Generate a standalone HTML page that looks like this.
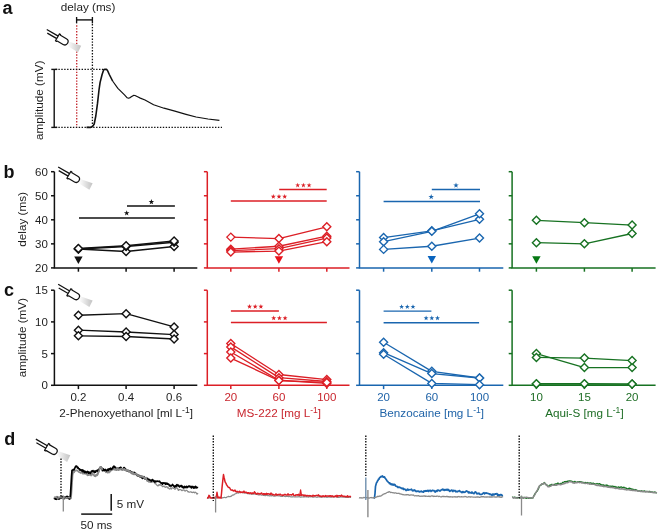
<!DOCTYPE html>
<html><head><meta charset="utf-8"><title>Figure</title>
<style>
html,body{margin:0;padding:0;background:#fff;}
body{width:660px;height:532px;overflow:hidden;}
svg{display:block;font-family:"Liberation Sans",Arial,Helvetica,sans-serif;}
</style></head><body>
<svg width="660" height="532" viewBox="0 0 660 532">
<defs><linearGradient id="cone" x1="0" y1="0" x2="1" y2="0"><stop offset="0" stop-color="#ffffff"/><stop offset="1" stop-color="#c2c2c2"/></linearGradient></defs>
<rect width="660" height="532" fill="#fff"/>
<text x="2.6" y="13.8" font-size="18" font-weight="bold" fill="#111">a</text>
<text x="60.8" y="10.6" fill="#1e1e1e" font-size="11.7" text-anchor="start" >delay (ms)</text>
<line x1="76.6" y1="19.9" x2="92.4" y2="19.9" stroke="#111" stroke-width="1.4" />
<line x1="76.6" y1="17" x2="76.6" y2="23.4" stroke="#111" stroke-width="1.35" />
<line x1="92.4" y1="17" x2="92.4" y2="23.4" stroke="#111" stroke-width="1.35" />
<line x1="76.7" y1="25.3" x2="76.7" y2="127.6" stroke="#c42a30" stroke-width="1.35" stroke-dasharray="1.4 1.5"/>
<line x1="92.4" y1="24" x2="92.4" y2="127.6" stroke="#111" stroke-width="1.3" stroke-dasharray="1.4 1.5"/>
<line x1="55.5" y1="69.4" x2="104.5" y2="69.4" stroke="#111" stroke-width="1.3" stroke-dasharray="1.4 1.5"/>
<line x1="55.5" y1="127.4" x2="222" y2="127.4" stroke="#111" stroke-width="1.3" stroke-dasharray="1.4 1.5"/>
<line x1="54.2" y1="69.4" x2="54.2" y2="127.4" stroke="#111" stroke-width="1.4" />
<line x1="51.3" y1="69.4" x2="57.3" y2="69.4" stroke="#111" stroke-width="1.4" />
<line x1="51.3" y1="127.4" x2="57.3" y2="127.4" stroke="#111" stroke-width="1.4" />
<text transform="translate(42.9,100.3) rotate(-90)" fill="#1e1e1e" font-size="11.7" text-anchor="middle">amplitude (mV)</text>
<path d="M86.5 127.4 L90.5 127.4 L92.5 126.6 L94.2 124 L95.8 116 L97.5 103.4 L99 90 L100.1 82.4 L102.1 74.5 L103.6 70 L104.5 69.4 L106.5 69.4 L107.5 70.5 L109.3 74.5 L112.6 81" fill="none" stroke="#111" stroke-width="1.6" stroke-linejoin="round" />
<path d="M112.6 81 L117.9 88.3 L124.5 94.9 L127.2 97.8 L128.4 98.2 L130.2 97.6 L131.7 96.6 L133.5 95.4 L135 95.5 L137.6 96.8 L140.3 98.1 L145 100 L153.6 104.7 L164 108.2 L174.9 111.2 L186 114.3 L196.1 117 L208 119 L219.4 120.4" fill="none" stroke="#111" stroke-width="1.2" stroke-linejoin="round" />
<g transform="translate(-11.4,-137.5)">
<path d="M80.2 179.0 L92.6 183.2 L89.4 189.8 L78.9 183.4Z" fill="url(#cone)"/>
<g transform="translate(68.6,174.7) rotate(30)">
<path d="M-12.9 -1.45 L0.4 -1.45 M-10.6 1.45 L0.4 1.45" stroke="#111" stroke-width="1.25" fill="none"/>
<path d="M0.3 -4.0 L1.5 -4.0 L1.9 -3.3 L8.7 -3.3 A3.3 3.3 0 0 1 8.7 3.3 L1.9 3.3 L1.5 4.0 L0.3 4.0 Z" fill="#fff" stroke="#111" stroke-width="1.2" stroke-linejoin="round"/>
</g></g>
<path d="M54.4 171.7 L54.4 267.9 L197.3 267.9" fill="none" stroke="#111" stroke-width="1.5"/>
<line x1="51" y1="267.9" x2="54.4" y2="267.9" stroke="#111" stroke-width="1.5" />
<text x="47.9" y="271.9" fill="#1e1e1e" font-size="11.5" text-anchor="end" >20</text>
<line x1="51" y1="243.85" x2="54.4" y2="243.85" stroke="#111" stroke-width="1.5" />
<text x="47.9" y="247.85" fill="#1e1e1e" font-size="11.5" text-anchor="end" >30</text>
<line x1="51" y1="219.8" x2="54.4" y2="219.8" stroke="#111" stroke-width="1.5" />
<text x="47.9" y="223.8" fill="#1e1e1e" font-size="11.5" text-anchor="end" >40</text>
<line x1="51" y1="195.75" x2="54.4" y2="195.75" stroke="#111" stroke-width="1.5" />
<text x="47.9" y="199.75" fill="#1e1e1e" font-size="11.5" text-anchor="end" >50</text>
<line x1="51" y1="171.7" x2="54.4" y2="171.7" stroke="#111" stroke-width="1.5" />
<text x="47.9" y="175.7" fill="#1e1e1e" font-size="11.5" text-anchor="end" >60</text>
<line x1="78.4" y1="267.9" x2="78.4" y2="271.7" stroke="#111" stroke-width="1.5" />
<line x1="126.1" y1="267.9" x2="126.1" y2="271.7" stroke="#111" stroke-width="1.5" />
<line x1="174.1" y1="267.9" x2="174.1" y2="271.7" stroke="#111" stroke-width="1.5" />
<path d="M207.3 171.7 L207.3 267.9 L349.5 267.9" fill="none" stroke="#dc1f26" stroke-width="1.5"/>
<line x1="203.9" y1="267.9" x2="207.3" y2="267.9" stroke="#dc1f26" stroke-width="1.5" />
<line x1="203.9" y1="243.85" x2="207.3" y2="243.85" stroke="#dc1f26" stroke-width="1.5" />
<line x1="203.9" y1="219.8" x2="207.3" y2="219.8" stroke="#dc1f26" stroke-width="1.5" />
<line x1="203.9" y1="195.75" x2="207.3" y2="195.75" stroke="#dc1f26" stroke-width="1.5" />
<line x1="203.9" y1="171.7" x2="207.3" y2="171.7" stroke="#dc1f26" stroke-width="1.5" />
<line x1="230.8" y1="267.9" x2="230.8" y2="271.7" stroke="#dc1f26" stroke-width="1.5" />
<line x1="278.9" y1="267.9" x2="278.9" y2="271.7" stroke="#dc1f26" stroke-width="1.5" />
<line x1="326.8" y1="267.9" x2="326.8" y2="271.7" stroke="#dc1f26" stroke-width="1.5" />
<path d="M359.5 171.7 L359.5 267.9 L503.3 267.9" fill="none" stroke="#1a66af" stroke-width="1.5"/>
<line x1="356.1" y1="267.9" x2="359.5" y2="267.9" stroke="#1a66af" stroke-width="1.5" />
<line x1="356.1" y1="243.85" x2="359.5" y2="243.85" stroke="#1a66af" stroke-width="1.5" />
<line x1="356.1" y1="219.8" x2="359.5" y2="219.8" stroke="#1a66af" stroke-width="1.5" />
<line x1="356.1" y1="195.75" x2="359.5" y2="195.75" stroke="#1a66af" stroke-width="1.5" />
<line x1="356.1" y1="171.7" x2="359.5" y2="171.7" stroke="#1a66af" stroke-width="1.5" />
<line x1="383.6" y1="267.9" x2="383.6" y2="271.7" stroke="#1a66af" stroke-width="1.5" />
<line x1="431.8" y1="267.9" x2="431.8" y2="271.7" stroke="#1a66af" stroke-width="1.5" />
<line x1="479.5" y1="267.9" x2="479.5" y2="271.7" stroke="#1a66af" stroke-width="1.5" />
<path d="M512.1 171.7 L512.1 267.9 L655.6 267.9" fill="none" stroke="#177222" stroke-width="1.5"/>
<line x1="508.7" y1="267.9" x2="512.1" y2="267.9" stroke="#177222" stroke-width="1.5" />
<line x1="508.7" y1="243.85" x2="512.1" y2="243.85" stroke="#177222" stroke-width="1.5" />
<line x1="508.7" y1="219.8" x2="512.1" y2="219.8" stroke="#177222" stroke-width="1.5" />
<line x1="508.7" y1="195.75" x2="512.1" y2="195.75" stroke="#177222" stroke-width="1.5" />
<line x1="508.7" y1="171.7" x2="512.1" y2="171.7" stroke="#177222" stroke-width="1.5" />
<line x1="536.4" y1="267.9" x2="536.4" y2="271.7" stroke="#177222" stroke-width="1.5" />
<line x1="584.4" y1="267.9" x2="584.4" y2="271.7" stroke="#177222" stroke-width="1.5" />
<line x1="632.1" y1="267.9" x2="632.1" y2="271.7" stroke="#177222" stroke-width="1.5" />
<path d="M54.4 290.2 L54.4 385.3 L197.3 385.3" fill="none" stroke="#111" stroke-width="1.5"/>
<line x1="51" y1="385.3" x2="54.4" y2="385.3" stroke="#111" stroke-width="1.5" />
<text x="47.9" y="389.3" fill="#1e1e1e" font-size="11.5" text-anchor="end" >0</text>
<line x1="51" y1="353.6" x2="54.4" y2="353.6" stroke="#111" stroke-width="1.5" />
<text x="47.9" y="357.6" fill="#1e1e1e" font-size="11.5" text-anchor="end" >5</text>
<line x1="51" y1="321.9" x2="54.4" y2="321.9" stroke="#111" stroke-width="1.5" />
<text x="47.9" y="325.9" fill="#1e1e1e" font-size="11.5" text-anchor="end" >10</text>
<line x1="51" y1="290.2" x2="54.4" y2="290.2" stroke="#111" stroke-width="1.5" />
<text x="47.9" y="294.2" fill="#1e1e1e" font-size="11.5" text-anchor="end" >15</text>
<line x1="78.4" y1="385.3" x2="78.4" y2="389.1" stroke="#111" stroke-width="1.5" />
<line x1="126.1" y1="385.3" x2="126.1" y2="389.1" stroke="#111" stroke-width="1.5" />
<line x1="174.1" y1="385.3" x2="174.1" y2="389.1" stroke="#111" stroke-width="1.5" />
<text x="78.4" y="400.5" fill="#1e1e1e" font-size="11.5" text-anchor="middle" >0.2</text>
<text x="126.1" y="400.5" fill="#1e1e1e" font-size="11.5" text-anchor="middle" >0.4</text>
<text x="174.1" y="400.5" fill="#1e1e1e" font-size="11.5" text-anchor="middle" >0.6</text>
<text x="126.1" y="417.3" fill="#1e1e1e" font-size="11.7" text-anchor="middle" >2-Phenoxyethanol [ml L<tspan dy="-4.6" font-size="8.6">-1</tspan><tspan dy="4.6">]</tspan></text>
<path d="M207.3 290.2 L207.3 385.3 L349.5 385.3" fill="none" stroke="#dc1f26" stroke-width="1.5"/>
<line x1="203.9" y1="385.3" x2="207.3" y2="385.3" stroke="#dc1f26" stroke-width="1.5" />
<line x1="203.9" y1="353.6" x2="207.3" y2="353.6" stroke="#dc1f26" stroke-width="1.5" />
<line x1="203.9" y1="321.9" x2="207.3" y2="321.9" stroke="#dc1f26" stroke-width="1.5" />
<line x1="203.9" y1="290.2" x2="207.3" y2="290.2" stroke="#dc1f26" stroke-width="1.5" />
<line x1="230.8" y1="385.3" x2="230.8" y2="389.1" stroke="#dc1f26" stroke-width="1.5" />
<line x1="278.9" y1="385.3" x2="278.9" y2="389.1" stroke="#dc1f26" stroke-width="1.5" />
<line x1="326.8" y1="385.3" x2="326.8" y2="389.1" stroke="#dc1f26" stroke-width="1.5" />
<text x="230.8" y="400.5" fill="#c8262e" font-size="11.5" text-anchor="middle" >20</text>
<text x="278.9" y="400.5" fill="#c8262e" font-size="11.5" text-anchor="middle" >60</text>
<text x="326.8" y="400.5" fill="#c8262e" font-size="11.5" text-anchor="middle" >100</text>
<text x="278.9" y="417.3" fill="#c8262e" font-size="11.7" text-anchor="middle" >MS-222 [mg L<tspan dy="-4.6" font-size="8.6">-1</tspan><tspan dy="4.6">]</tspan></text>
<path d="M359.5 290.2 L359.5 385.3 L503.3 385.3" fill="none" stroke="#1a66af" stroke-width="1.5"/>
<line x1="356.1" y1="385.3" x2="359.5" y2="385.3" stroke="#1a66af" stroke-width="1.5" />
<line x1="356.1" y1="353.6" x2="359.5" y2="353.6" stroke="#1a66af" stroke-width="1.5" />
<line x1="356.1" y1="321.9" x2="359.5" y2="321.9" stroke="#1a66af" stroke-width="1.5" />
<line x1="356.1" y1="290.2" x2="359.5" y2="290.2" stroke="#1a66af" stroke-width="1.5" />
<line x1="383.6" y1="385.3" x2="383.6" y2="389.1" stroke="#1a66af" stroke-width="1.5" />
<line x1="431.8" y1="385.3" x2="431.8" y2="389.1" stroke="#1a66af" stroke-width="1.5" />
<line x1="479.5" y1="385.3" x2="479.5" y2="389.1" stroke="#1a66af" stroke-width="1.5" />
<text x="383.6" y="400.5" fill="#2164a8" font-size="11.5" text-anchor="middle" >20</text>
<text x="431.8" y="400.5" fill="#2164a8" font-size="11.5" text-anchor="middle" >60</text>
<text x="479.5" y="400.5" fill="#2164a8" font-size="11.5" text-anchor="middle" >100</text>
<text x="431.8" y="417.3" fill="#2164a8" font-size="11.7" text-anchor="middle" >Benzocaine [mg L<tspan dy="-4.6" font-size="8.6">-1</tspan><tspan dy="4.6">]</tspan></text>
<path d="M512.1 290.2 L512.1 385.3 L655.6 385.3" fill="none" stroke="#177222" stroke-width="1.5"/>
<line x1="508.7" y1="385.3" x2="512.1" y2="385.3" stroke="#177222" stroke-width="1.5" />
<line x1="508.7" y1="353.6" x2="512.1" y2="353.6" stroke="#177222" stroke-width="1.5" />
<line x1="508.7" y1="321.9" x2="512.1" y2="321.9" stroke="#177222" stroke-width="1.5" />
<line x1="508.7" y1="290.2" x2="512.1" y2="290.2" stroke="#177222" stroke-width="1.5" />
<line x1="536.4" y1="385.3" x2="536.4" y2="389.1" stroke="#177222" stroke-width="1.5" />
<line x1="584.4" y1="385.3" x2="584.4" y2="389.1" stroke="#177222" stroke-width="1.5" />
<line x1="632.1" y1="385.3" x2="632.1" y2="389.1" stroke="#177222" stroke-width="1.5" />
<text x="536.4" y="400.5" fill="#1f6e26" font-size="11.5" text-anchor="middle" >10</text>
<text x="584.4" y="400.5" fill="#1f6e26" font-size="11.5" text-anchor="middle" >15</text>
<text x="632.1" y="400.5" fill="#1f6e26" font-size="11.5" text-anchor="middle" >20</text>
<text x="584.4" y="417.3" fill="#1f6e26" font-size="11.7" text-anchor="middle" >Aqui-S [mg L<tspan dy="-4.6" font-size="8.6">-1</tspan><tspan dy="4.6">]</tspan></text>
<text x="3.6" y="178.2" font-size="18" font-weight="bold" fill="#111">b</text>
<text x="4.1" y="295.8" font-size="18" font-weight="bold" fill="#111">c</text>
<text transform="translate(26.1,219.4) rotate(-90)" fill="#1e1e1e" font-size="11.7" text-anchor="middle">delay (ms)</text>
<text transform="translate(26.1,337.6) rotate(-90)" fill="#1e1e1e" font-size="11.7" text-anchor="middle">amplitude (mV)</text>
<path d="M78.4 248.9 L126.1 251.55 L174.1 246.5" fill="none" stroke="#111" stroke-width="1.5" stroke-linejoin="round" />
<path d="M78.4 248.9 L126.1 246.5 L174.1 242.17" fill="none" stroke="#111" stroke-width="1.5" stroke-linejoin="round" />
<path d="M78.4 248.42 L126.1 245.77 L174.1 240.96" fill="none" stroke="#111" stroke-width="1.5" stroke-linejoin="round" />
<path d="M74.4 248.9 L78.4 244.9 L82.4 248.9 L78.4 252.9Z" fill="#fff" stroke="#111" stroke-width="1.4" stroke-linejoin="miter"/>
<path d="M122.1 251.55 L126.1 247.55 L130.1 251.55 L126.1 255.55Z" fill="#fff" stroke="#111" stroke-width="1.4" stroke-linejoin="miter"/>
<path d="M170.1 246.5 L174.1 242.5 L178.1 246.5 L174.1 250.5Z" fill="#fff" stroke="#111" stroke-width="1.4" stroke-linejoin="miter"/>
<path d="M74.4 248.9 L78.4 244.9 L82.4 248.9 L78.4 252.9Z" fill="#fff" stroke="#111" stroke-width="1.4" stroke-linejoin="miter"/>
<path d="M122.1 246.5 L126.1 242.5 L130.1 246.5 L126.1 250.5Z" fill="#fff" stroke="#111" stroke-width="1.4" stroke-linejoin="miter"/>
<path d="M170.1 242.17 L174.1 238.17 L178.1 242.17 L174.1 246.17Z" fill="#fff" stroke="#111" stroke-width="1.4" stroke-linejoin="miter"/>
<path d="M74.4 248.42 L78.4 244.42 L82.4 248.42 L78.4 252.42Z" fill="#fff" stroke="#111" stroke-width="1.4" stroke-linejoin="miter"/>
<path d="M122.1 245.77 L126.1 241.77 L130.1 245.77 L126.1 249.77Z" fill="#fff" stroke="#111" stroke-width="1.4" stroke-linejoin="miter"/>
<path d="M170.1 240.96 L174.1 236.96 L178.1 240.96 L174.1 244.96Z" fill="#fff" stroke="#111" stroke-width="1.4" stroke-linejoin="miter"/>
<path d="M230.8 237.12 L278.9 238.56 L326.8 226.77" fill="none" stroke="#dc1f26" stroke-width="1.3" stroke-linejoin="round" />
<path d="M230.8 249.14 L278.9 246.25 L326.8 236.15" fill="none" stroke="#dc1f26" stroke-width="1.3" stroke-linejoin="round" />
<path d="M230.8 250.58 L278.9 248.66 L326.8 238.08" fill="none" stroke="#dc1f26" stroke-width="1.3" stroke-linejoin="round" />
<path d="M230.8 252.03 L278.9 251.06 L326.8 241.69" fill="none" stroke="#dc1f26" stroke-width="1.3" stroke-linejoin="round" />
<path d="M226.8 237.12 L230.8 233.12 L234.8 237.12 L230.8 241.12Z" fill="#fff" stroke="#dc1f26" stroke-width="1.4" stroke-linejoin="miter"/>
<path d="M274.9 238.56 L278.9 234.56 L282.9 238.56 L278.9 242.56Z" fill="#fff" stroke="#dc1f26" stroke-width="1.4" stroke-linejoin="miter"/>
<path d="M322.8 226.77 L326.8 222.77 L330.8 226.77 L326.8 230.77Z" fill="#fff" stroke="#dc1f26" stroke-width="1.4" stroke-linejoin="miter"/>
<path d="M226.8 249.14 L230.8 245.14 L234.8 249.14 L230.8 253.14Z" fill="#fff" stroke="#dc1f26" stroke-width="1.4" stroke-linejoin="miter"/>
<path d="M274.9 246.25 L278.9 242.25 L282.9 246.25 L278.9 250.25Z" fill="#fff" stroke="#dc1f26" stroke-width="1.4" stroke-linejoin="miter"/>
<path d="M322.8 236.15 L326.8 232.15 L330.8 236.15 L326.8 240.15Z" fill="#fff" stroke="#dc1f26" stroke-width="1.4" stroke-linejoin="miter"/>
<path d="M226.8 250.58 L230.8 246.58 L234.8 250.58 L230.8 254.58Z" fill="#fff" stroke="#dc1f26" stroke-width="1.4" stroke-linejoin="miter"/>
<path d="M274.9 248.66 L278.9 244.66 L282.9 248.66 L278.9 252.66Z" fill="#fff" stroke="#dc1f26" stroke-width="1.4" stroke-linejoin="miter"/>
<path d="M322.8 238.08 L326.8 234.08 L330.8 238.08 L326.8 242.08Z" fill="#fff" stroke="#dc1f26" stroke-width="1.4" stroke-linejoin="miter"/>
<path d="M226.8 252.03 L230.8 248.03 L234.8 252.03 L230.8 256.03Z" fill="#fff" stroke="#dc1f26" stroke-width="1.4" stroke-linejoin="miter"/>
<path d="M274.9 251.06 L278.9 247.06 L282.9 251.06 L278.9 255.06Z" fill="#fff" stroke="#dc1f26" stroke-width="1.4" stroke-linejoin="miter"/>
<path d="M322.8 241.69 L326.8 237.69 L330.8 241.69 L326.8 245.69Z" fill="#fff" stroke="#dc1f26" stroke-width="1.4" stroke-linejoin="miter"/>
<path d="M383.6 237.6 L431.8 230.86 L479.5 219.32" fill="none" stroke="#1a66af" stroke-width="1.3" stroke-linejoin="round" />
<path d="M383.6 241.69 L431.8 231.34 L479.5 213.79" fill="none" stroke="#1a66af" stroke-width="1.3" stroke-linejoin="round" />
<path d="M383.6 249.38 L431.8 246.25 L479.5 238.08" fill="none" stroke="#1a66af" stroke-width="1.3" stroke-linejoin="round" />
<path d="M379.6 237.6 L383.6 233.6 L387.6 237.6 L383.6 241.6Z" fill="#fff" stroke="#1a66af" stroke-width="1.4" stroke-linejoin="miter"/>
<path d="M427.8 230.86 L431.8 226.86 L435.8 230.86 L431.8 234.86Z" fill="#fff" stroke="#1a66af" stroke-width="1.4" stroke-linejoin="miter"/>
<path d="M475.5 219.32 L479.5 215.32 L483.5 219.32 L479.5 223.32Z" fill="#fff" stroke="#1a66af" stroke-width="1.4" stroke-linejoin="miter"/>
<path d="M379.6 241.69 L383.6 237.69 L387.6 241.69 L383.6 245.69Z" fill="#fff" stroke="#1a66af" stroke-width="1.4" stroke-linejoin="miter"/>
<path d="M427.8 231.34 L431.8 227.34 L435.8 231.34 L431.8 235.34Z" fill="#fff" stroke="#1a66af" stroke-width="1.4" stroke-linejoin="miter"/>
<path d="M475.5 213.79 L479.5 209.79 L483.5 213.79 L479.5 217.79Z" fill="#fff" stroke="#1a66af" stroke-width="1.4" stroke-linejoin="miter"/>
<path d="M379.6 249.38 L383.6 245.38 L387.6 249.38 L383.6 253.38Z" fill="#fff" stroke="#1a66af" stroke-width="1.4" stroke-linejoin="miter"/>
<path d="M427.8 246.25 L431.8 242.25 L435.8 246.25 L431.8 250.25Z" fill="#fff" stroke="#1a66af" stroke-width="1.4" stroke-linejoin="miter"/>
<path d="M475.5 238.08 L479.5 234.08 L483.5 238.08 L479.5 242.08Z" fill="#fff" stroke="#1a66af" stroke-width="1.4" stroke-linejoin="miter"/>
<path d="M536.4 220.28 L584.4 222.69 L632.1 225.09" fill="none" stroke="#177222" stroke-width="1.3" stroke-linejoin="round" />
<path d="M536.4 242.65 L584.4 243.85 L632.1 233.51" fill="none" stroke="#177222" stroke-width="1.3" stroke-linejoin="round" />
<path d="M532.4 220.28 L536.4 216.28 L540.4 220.28 L536.4 224.28Z" fill="#fff" stroke="#177222" stroke-width="1.4" stroke-linejoin="miter"/>
<path d="M580.4 222.69 L584.4 218.69 L588.4 222.69 L584.4 226.69Z" fill="#fff" stroke="#177222" stroke-width="1.4" stroke-linejoin="miter"/>
<path d="M628.1 225.09 L632.1 221.09 L636.1 225.09 L632.1 229.09Z" fill="#fff" stroke="#177222" stroke-width="1.4" stroke-linejoin="miter"/>
<path d="M532.4 242.65 L536.4 238.65 L540.4 242.65 L536.4 246.65Z" fill="#fff" stroke="#177222" stroke-width="1.4" stroke-linejoin="miter"/>
<path d="M580.4 243.85 L584.4 239.85 L588.4 243.85 L584.4 247.85Z" fill="#fff" stroke="#177222" stroke-width="1.4" stroke-linejoin="miter"/>
<path d="M628.1 233.51 L632.1 229.51 L636.1 233.51 L632.1 237.51Z" fill="#fff" stroke="#177222" stroke-width="1.4" stroke-linejoin="miter"/>
<path d="M78.4 315.24 L126.1 313.66 L174.1 326.97" fill="none" stroke="#111" stroke-width="1.35" stroke-linejoin="round" />
<path d="M78.4 330.14 L126.1 332.04 L174.1 334.58" fill="none" stroke="#111" stroke-width="1.35" stroke-linejoin="round" />
<path d="M78.4 335.85 L126.1 336.48 L174.1 339.02" fill="none" stroke="#111" stroke-width="1.35" stroke-linejoin="round" />
<path d="M74.4 315.24 L78.4 311.24 L82.4 315.24 L78.4 319.24Z" fill="#fff" stroke="#111" stroke-width="1.4" stroke-linejoin="miter"/>
<path d="M122.1 313.66 L126.1 309.66 L130.1 313.66 L126.1 317.66Z" fill="#fff" stroke="#111" stroke-width="1.4" stroke-linejoin="miter"/>
<path d="M170.1 326.97 L174.1 322.97 L178.1 326.97 L174.1 330.97Z" fill="#fff" stroke="#111" stroke-width="1.4" stroke-linejoin="miter"/>
<path d="M74.4 330.14 L78.4 326.14 L82.4 330.14 L78.4 334.14Z" fill="#fff" stroke="#111" stroke-width="1.4" stroke-linejoin="miter"/>
<path d="M122.1 332.04 L126.1 328.04 L130.1 332.04 L126.1 336.04Z" fill="#fff" stroke="#111" stroke-width="1.4" stroke-linejoin="miter"/>
<path d="M170.1 334.58 L174.1 330.58 L178.1 334.58 L174.1 338.58Z" fill="#fff" stroke="#111" stroke-width="1.4" stroke-linejoin="miter"/>
<path d="M74.4 335.85 L78.4 331.85 L82.4 335.85 L78.4 339.85Z" fill="#fff" stroke="#111" stroke-width="1.4" stroke-linejoin="miter"/>
<path d="M122.1 336.48 L126.1 332.48 L130.1 336.48 L126.1 340.48Z" fill="#fff" stroke="#111" stroke-width="1.4" stroke-linejoin="miter"/>
<path d="M170.1 339.02 L174.1 335.02 L178.1 339.02 L174.1 343.02Z" fill="#fff" stroke="#111" stroke-width="1.4" stroke-linejoin="miter"/>
<path d="M230.8 343.46 L278.9 374.52 L326.8 379.59" fill="none" stroke="#dc1f26" stroke-width="1.35" stroke-linejoin="round" />
<path d="M230.8 346.94 L278.9 377.69 L326.8 381.5" fill="none" stroke="#dc1f26" stroke-width="1.35" stroke-linejoin="round" />
<path d="M230.8 352.01 L278.9 380.23 L326.8 383.4" fill="none" stroke="#dc1f26" stroke-width="1.35" stroke-linejoin="round" />
<path d="M230.8 358.04 L278.9 380.55 L326.8 382.45" fill="none" stroke="#dc1f26" stroke-width="1.35" stroke-linejoin="round" />
<path d="M226.8 343.46 L230.8 339.46 L234.8 343.46 L230.8 347.46Z" fill="#fff" stroke="#dc1f26" stroke-width="1.4" stroke-linejoin="miter"/>
<path d="M274.9 374.52 L278.9 370.52 L282.9 374.52 L278.9 378.52Z" fill="#fff" stroke="#dc1f26" stroke-width="1.4" stroke-linejoin="miter"/>
<path d="M322.8 379.59 L326.8 375.59 L330.8 379.59 L326.8 383.59Z" fill="#fff" stroke="#dc1f26" stroke-width="1.4" stroke-linejoin="miter"/>
<path d="M226.8 346.94 L230.8 342.94 L234.8 346.94 L230.8 350.94Z" fill="#fff" stroke="#dc1f26" stroke-width="1.4" stroke-linejoin="miter"/>
<path d="M274.9 377.69 L278.9 373.69 L282.9 377.69 L278.9 381.69Z" fill="#fff" stroke="#dc1f26" stroke-width="1.4" stroke-linejoin="miter"/>
<path d="M322.8 381.5 L326.8 377.5 L330.8 381.5 L326.8 385.5Z" fill="#fff" stroke="#dc1f26" stroke-width="1.4" stroke-linejoin="miter"/>
<path d="M226.8 352.01 L230.8 348.01 L234.8 352.01 L230.8 356.01Z" fill="#fff" stroke="#dc1f26" stroke-width="1.4" stroke-linejoin="miter"/>
<path d="M274.9 380.23 L278.9 376.23 L282.9 380.23 L278.9 384.23Z" fill="#fff" stroke="#dc1f26" stroke-width="1.4" stroke-linejoin="miter"/>
<path d="M322.8 383.4 L326.8 379.4 L330.8 383.4 L326.8 387.4Z" fill="#fff" stroke="#dc1f26" stroke-width="1.4" stroke-linejoin="miter"/>
<path d="M226.8 358.04 L230.8 354.04 L234.8 358.04 L230.8 362.04Z" fill="#fff" stroke="#dc1f26" stroke-width="1.4" stroke-linejoin="miter"/>
<path d="M274.9 380.55 L278.9 376.55 L282.9 380.55 L278.9 384.55Z" fill="#fff" stroke="#dc1f26" stroke-width="1.4" stroke-linejoin="miter"/>
<path d="M322.8 382.45 L326.8 378.45 L330.8 382.45 L326.8 386.45Z" fill="#fff" stroke="#dc1f26" stroke-width="1.4" stroke-linejoin="miter"/>
<path d="M383.6 342.19 L431.8 371.35 L479.5 378.01" fill="none" stroke="#1a66af" stroke-width="1.3" stroke-linejoin="round" />
<path d="M383.6 352.65 L431.8 373.57 L479.5 378.01" fill="none" stroke="#1a66af" stroke-width="1.3" stroke-linejoin="round" />
<path d="M383.6 354.23 L431.8 383.4 L479.5 384.67" fill="none" stroke="#1a66af" stroke-width="1.3" stroke-linejoin="round" />
<path d="M379.6 342.19 L383.6 338.19 L387.6 342.19 L383.6 346.19Z" fill="#fff" stroke="#1a66af" stroke-width="1.4" stroke-linejoin="miter"/>
<path d="M427.8 371.35 L431.8 367.35 L435.8 371.35 L431.8 375.35Z" fill="#fff" stroke="#1a66af" stroke-width="1.4" stroke-linejoin="miter"/>
<path d="M475.5 378.01 L479.5 374.01 L483.5 378.01 L479.5 382.01Z" fill="#fff" stroke="#1a66af" stroke-width="1.4" stroke-linejoin="miter"/>
<path d="M379.6 352.65 L383.6 348.65 L387.6 352.65 L383.6 356.65Z" fill="#fff" stroke="#1a66af" stroke-width="1.4" stroke-linejoin="miter"/>
<path d="M427.8 373.57 L431.8 369.57 L435.8 373.57 L431.8 377.57Z" fill="#fff" stroke="#1a66af" stroke-width="1.4" stroke-linejoin="miter"/>
<path d="M475.5 378.01 L479.5 374.01 L483.5 378.01 L479.5 382.01Z" fill="#fff" stroke="#1a66af" stroke-width="1.4" stroke-linejoin="miter"/>
<path d="M379.6 354.23 L383.6 350.23 L387.6 354.23 L383.6 358.23Z" fill="#fff" stroke="#1a66af" stroke-width="1.4" stroke-linejoin="miter"/>
<path d="M427.8 383.4 L431.8 379.4 L435.8 383.4 L431.8 387.4Z" fill="#fff" stroke="#1a66af" stroke-width="1.4" stroke-linejoin="miter"/>
<path d="M475.5 384.67 L479.5 380.67 L483.5 384.67 L479.5 388.67Z" fill="#fff" stroke="#1a66af" stroke-width="1.4" stroke-linejoin="miter"/>
<path d="M536.4 353.6 L584.4 367.55 L632.1 367.55" fill="none" stroke="#177222" stroke-width="1.3" stroke-linejoin="round" />
<path d="M536.4 357.4 L584.4 358.04 L632.1 360.57" fill="none" stroke="#177222" stroke-width="1.3" stroke-linejoin="round" />
<path d="M536.4 384.03 L584.4 384.03 L632.1 384.03" fill="none" stroke="#177222" stroke-width="1.3" stroke-linejoin="round" />
<path d="M536.4 383.72 L584.4 383.72 L632.1 384.03" fill="none" stroke="#177222" stroke-width="1.3" stroke-linejoin="round" />
<path d="M532.4 353.6 L536.4 349.6 L540.4 353.6 L536.4 357.6Z" fill="#fff" stroke="#177222" stroke-width="1.4" stroke-linejoin="miter"/>
<path d="M580.4 367.55 L584.4 363.55 L588.4 367.55 L584.4 371.55Z" fill="#fff" stroke="#177222" stroke-width="1.4" stroke-linejoin="miter"/>
<path d="M628.1 367.55 L632.1 363.55 L636.1 367.55 L632.1 371.55Z" fill="#fff" stroke="#177222" stroke-width="1.4" stroke-linejoin="miter"/>
<path d="M532.4 357.4 L536.4 353.4 L540.4 357.4 L536.4 361.4Z" fill="#fff" stroke="#177222" stroke-width="1.4" stroke-linejoin="miter"/>
<path d="M580.4 358.04 L584.4 354.04 L588.4 358.04 L584.4 362.04Z" fill="#fff" stroke="#177222" stroke-width="1.4" stroke-linejoin="miter"/>
<path d="M628.1 360.57 L632.1 356.57 L636.1 360.57 L632.1 364.57Z" fill="#fff" stroke="#177222" stroke-width="1.4" stroke-linejoin="miter"/>
<path d="M532.4 384.03 L536.4 380.03 L540.4 384.03 L536.4 388.03Z" fill="#fff" stroke="#177222" stroke-width="1.4" stroke-linejoin="miter"/>
<path d="M580.4 384.03 L584.4 380.03 L588.4 384.03 L584.4 388.03Z" fill="#fff" stroke="#177222" stroke-width="1.4" stroke-linejoin="miter"/>
<path d="M628.1 384.03 L632.1 380.03 L636.1 384.03 L632.1 388.03Z" fill="#fff" stroke="#177222" stroke-width="1.4" stroke-linejoin="miter"/>
<path d="M532.4 383.72 L536.4 379.72 L540.4 383.72 L536.4 387.72Z" fill="#fff" stroke="#177222" stroke-width="1.4" stroke-linejoin="miter"/>
<path d="M580.4 383.72 L584.4 379.72 L588.4 383.72 L584.4 387.72Z" fill="#fff" stroke="#177222" stroke-width="1.4" stroke-linejoin="miter"/>
<path d="M628.1 384.03 L632.1 380.03 L636.1 384.03 L632.1 388.03Z" fill="#fff" stroke="#177222" stroke-width="1.4" stroke-linejoin="miter"/>
<line x1="127" y1="206" x2="174.9" y2="206" stroke="#111" stroke-width="1.45" />
<path d="M151.4 199.1 L152.08 201.06 L154.16 201.1 L152.5 202.36 L153.1 204.35 L151.4 203.16 L149.7 204.35 L150.3 202.36 L148.64 201.1 L150.72 201.06Z" fill="#111"/>
<line x1="79" y1="217.9" x2="174.9" y2="217.9" stroke="#111" stroke-width="1.45" />
<path d="M126.7 210.3 L127.38 212.26 L129.46 212.3 L127.8 213.56 L128.4 215.55 L126.7 214.36 L125 215.55 L125.6 213.56 L123.94 212.3 L126.02 212.26Z" fill="#111"/>
<line x1="279.2" y1="189.5" x2="326.7" y2="189.5" stroke="#dc1f26" stroke-width="1.45" />
<path d="M297.7 182.7 L298.31 184.46 L300.17 184.5 L298.69 185.62 L299.23 187.4 L297.7 186.34 L296.17 187.4 L296.71 185.62 L295.23 184.5 L297.09 184.46Z" fill="#dc1f26"/>
<path d="M303.4 182.7 L304.01 184.46 L305.87 184.5 L304.39 185.62 L304.93 187.4 L303.4 186.34 L301.87 187.4 L302.41 185.62 L300.93 184.5 L302.79 184.46Z" fill="#dc1f26"/>
<path d="M309.1 182.7 L309.71 184.46 L311.57 184.5 L310.09 185.62 L310.63 187.4 L309.1 186.34 L307.57 187.4 L308.11 185.62 L306.63 184.5 L308.49 184.46Z" fill="#dc1f26"/>
<line x1="230.8" y1="201" x2="326.7" y2="201" stroke="#dc1f26" stroke-width="1.45" />
<path d="M273.3 194 L273.91 195.76 L275.77 195.8 L274.29 196.92 L274.83 198.7 L273.3 197.64 L271.77 198.7 L272.31 196.92 L270.83 195.8 L272.69 195.76Z" fill="#dc1f26"/>
<path d="M279 194 L279.61 195.76 L281.47 195.8 L279.99 196.92 L280.53 198.7 L279 197.64 L277.47 198.7 L278.01 196.92 L276.53 195.8 L278.39 195.76Z" fill="#dc1f26"/>
<path d="M284.7 194 L285.31 195.76 L287.17 195.8 L285.69 196.92 L286.23 198.7 L284.7 197.64 L283.17 198.7 L283.71 196.92 L282.23 195.8 L284.09 195.76Z" fill="#dc1f26"/>
<line x1="431.8" y1="189.5" x2="480" y2="189.5" stroke="#1a66af" stroke-width="1.45" />
<path d="M456 182.5 L456.68 184.46 L458.76 184.5 L457.1 185.76 L457.7 187.75 L456 186.56 L454.3 187.75 L454.9 185.76 L453.24 184.5 L455.32 184.46Z" fill="#1a66af"/>
<line x1="383.6" y1="201.4" x2="480" y2="201.4" stroke="#1a66af" stroke-width="1.45" />
<path d="M431.2 194 L431.88 195.96 L433.96 196 L432.3 197.26 L432.9 199.25 L431.2 198.06 L429.5 199.25 L430.1 197.26 L428.44 196 L430.52 195.96Z" fill="#1a66af"/>
<line x1="230.9" y1="310.9" x2="278.9" y2="310.9" stroke="#dc1f26" stroke-width="1.45" />
<path d="M249.5 304 L250.11 305.76 L251.97 305.8 L250.49 306.92 L251.03 308.7 L249.5 307.64 L247.97 308.7 L248.51 306.92 L247.03 305.8 L248.89 305.76Z" fill="#dc1f26"/>
<path d="M255.2 304 L255.81 305.76 L257.67 305.8 L256.19 306.92 L256.73 308.7 L255.2 307.64 L253.67 308.7 L254.21 306.92 L252.73 305.8 L254.59 305.76Z" fill="#dc1f26"/>
<path d="M260.9 304 L261.51 305.76 L263.37 305.8 L261.89 306.92 L262.43 308.7 L260.9 307.64 L259.37 308.7 L259.91 306.92 L258.43 305.8 L260.29 305.76Z" fill="#dc1f26"/>
<line x1="230.9" y1="322.4" x2="326.9" y2="322.4" stroke="#dc1f26" stroke-width="1.45" />
<path d="M273.7 315.6 L274.31 317.36 L276.17 317.4 L274.69 318.52 L275.23 320.3 L273.7 319.24 L272.17 320.3 L272.71 318.52 L271.23 317.4 L273.09 317.36Z" fill="#dc1f26"/>
<path d="M279.4 315.6 L280.01 317.36 L281.87 317.4 L280.39 318.52 L280.93 320.3 L279.4 319.24 L277.87 320.3 L278.41 318.52 L276.93 317.4 L278.79 317.36Z" fill="#dc1f26"/>
<path d="M285.1 315.6 L285.71 317.36 L287.57 317.4 L286.09 318.52 L286.63 320.3 L285.1 319.24 L283.57 320.3 L284.11 318.52 L282.63 317.4 L284.49 317.36Z" fill="#dc1f26"/>
<line x1="383.6" y1="311.1" x2="431.4" y2="311.1" stroke="#1a66af" stroke-width="1.45" />
<path d="M401.6 304.2 L402.21 305.96 L404.07 306 L402.59 307.12 L403.13 308.9 L401.6 307.84 L400.07 308.9 L400.61 307.12 L399.13 306 L400.99 305.96Z" fill="#1a66af"/>
<path d="M407.3 304.2 L407.91 305.96 L409.77 306 L408.29 307.12 L408.83 308.9 L407.3 307.84 L405.77 308.9 L406.31 307.12 L404.83 306 L406.69 305.96Z" fill="#1a66af"/>
<path d="M413 304.2 L413.61 305.96 L415.47 306 L413.99 307.12 L414.53 308.9 L413 307.84 L411.47 308.9 L412.01 307.12 L410.53 306 L412.39 305.96Z" fill="#1a66af"/>
<line x1="383.6" y1="322.7" x2="479.1" y2="322.7" stroke="#1a66af" stroke-width="1.45" />
<path d="M426.1 315.6 L426.71 317.36 L428.57 317.4 L427.09 318.52 L427.63 320.3 L426.1 319.24 L424.57 320.3 L425.11 318.52 L423.63 317.4 L425.49 317.36Z" fill="#1a66af"/>
<path d="M431.8 315.6 L432.41 317.36 L434.27 317.4 L432.79 318.52 L433.33 320.3 L431.8 319.24 L430.27 320.3 L430.81 318.52 L429.33 317.4 L431.19 317.36Z" fill="#1a66af"/>
<path d="M437.5 315.6 L438.11 317.36 L439.97 317.4 L438.49 318.52 L439.03 320.3 L437.5 319.24 L435.97 320.3 L436.51 318.52 L435.03 317.4 L436.89 317.36Z" fill="#1a66af"/>
<path d="M74.2 256.5 L82.6 256.5 L78.4 264.1Z" fill="#111"/>
<path d="M274.7 256.2 L283.1 256.2 L278.9 263.8Z" fill="#e8101a"/>
<path d="M427.6 256 L436 256 L431.8 263.6Z" fill="#0a64be"/>
<path d="M532.2 256.2 L540.6 256.2 L536.4 263.8Z" fill="#067814"/>
<g transform="translate(0,0)">
<path d="M80.2 179.0 L92.6 183.2 L89.4 189.8 L78.9 183.4Z" fill="url(#cone)"/>
<g transform="translate(68.6,174.7) rotate(30)">
<path d="M-12.9 -1.45 L0.4 -1.45 M-10.6 1.45 L0.4 1.45" stroke="#111" stroke-width="1.25" fill="none"/>
<path d="M0.3 -4.0 L1.5 -4.0 L1.9 -3.3 L8.7 -3.3 A3.3 3.3 0 0 1 8.7 3.3 L1.9 3.3 L1.5 4.0 L0.3 4.0 Z" fill="#fff" stroke="#111" stroke-width="1.2" stroke-linejoin="round"/>
</g></g>
<g transform="translate(0,117.3)">
<path d="M80.2 179.0 L92.6 183.2 L89.4 189.8 L78.9 183.4Z" fill="url(#cone)"/>
<g transform="translate(68.6,174.7) rotate(30)">
<path d="M-12.9 -1.45 L0.4 -1.45 M-10.6 1.45 L0.4 1.45" stroke="#111" stroke-width="1.25" fill="none"/>
<path d="M0.3 -4.0 L1.5 -4.0 L1.9 -3.3 L8.7 -3.3 A3.3 3.3 0 0 1 8.7 3.3 L1.9 3.3 L1.5 4.0 L0.3 4.0 Z" fill="#fff" stroke="#111" stroke-width="1.2" stroke-linejoin="round"/>
</g></g>
<text x="4.2" y="445.4" font-size="18" font-weight="bold" fill="#111">d</text>
<g transform="translate(-22.3,272.1)">
<path d="M80.2 179.0 L92.6 183.2 L89.4 189.8 L78.9 183.4Z" fill="url(#cone)"/>
<g transform="translate(68.6,174.7) rotate(30)">
<path d="M-12.9 -1.45 L0.4 -1.45 M-10.6 1.45 L0.4 1.45" stroke="#111" stroke-width="1.25" fill="none"/>
<path d="M0.3 -4.0 L1.5 -4.0 L1.9 -3.3 L8.7 -3.3 A3.3 3.3 0 0 1 8.7 3.3 L1.9 3.3 L1.5 4.0 L0.3 4.0 Z" fill="#fff" stroke="#111" stroke-width="1.2" stroke-linejoin="round"/>
</g></g>
<path d="M54 497.33 L54.5 497.64 L55 497.49 L55.5 497.83 L56 498.04 L56.5 497.14 L57 496.59 L57.5 497.8 L58 497.37 L58.5 497.11 L59 498.35 L59.5 498.02 L60 498.52 L60.5 498.12 L61 498.21 L61.5 497.38 L62 497.83 L62.5 498.48 L63 498.18 L63.5 498.42 L64 498.42 L64.5 497.33 L65 498.03 L65.5 498.08 L66 497.58 L66.5 496.85 L67 497.98 L67.5 497.84 L68 498.21 L68.5 498.69 L69 498.63 L69.5 498.97 L70 498.2 L70.5 498.54 L71 498.07 L71.5 490.72 L72 483.39 L72.5 475.22 L73 472.68 L73.5 471.81 L74 472.36 L74.5 471.31 L75 470.77 L75.5 470.35 L76 470.54 L76.5 470.46 L77 470.38 L77.5 470.81 L78 471.05 L78.5 471.78 L79 471.78 L79.5 472.26 L80 472.41 L80.5 472.89 L81 472.65 L81.5 471.72 L82 472.61 L82.5 473.34 L83 473.7 L83.5 473.37 L84 473.57 L84.5 472.87 L85 473.73 L85.5 473.82 L86 473.46 L86.5 473 L87 474.3 L87.5 475.31 L88 474.3 L88.5 475.19 L89 475.05 L89.5 474.33 L90 474.2 L90.5 474.96 L91 475.49 L91.5 474.24 L92 474.61 L92.5 473.73 L93 474.48 L93.5 474.3 L94 475.25 L94.5 475.96 L95 475.52 L95.5 476.24 L96 475.42 L96.5 474.64 L97 475.25 L97.5 474.59 L98 473.08 L98.5 472 L99 471.12 L99.5 469.15 L100 467.25 L100.5 467.08 L101 467.13 L101.5 468.53 L102 469.34 L102.5 469.02 L103 469.22 L103.5 469.65 L104 470.3 L104.5 470.63 L105 470.89 L105.5 471.29 L106 472.22 L106.5 472.06 L107 472 L107.5 472.65 L108 472.26 L108.5 471.72 L109 472.52 L109.5 471.95 L110 471.56 L110.5 470.25 L111 470.17 L111.5 470.28 L112 469.18 L112.5 469.55 L113 469.61 L113.5 468.74 L114 469.32 L114.5 469.31 L115 469.68 L115.5 469.26 L116 469.68 L116.5 469.94 L117 468.77 L117.5 468.24 L118 469.08 L118.5 470.04 L119 469.25 L119.5 469.23 L120 469.47 L120.5 469.11 L121 469.02 L121.5 468.89 L122 468.93 L122.5 469.37 L123 469.07 L123.5 469.06 L124 469.78 L124.5 468.98 L125 469.64 L125.5 470.37 L126 470.06 L126.5 469.84 L127 470.88 L127.5 470.47 L128 470.26 L128.5 470.74 L129 471.56 L129.5 471.02 L130 471.25 L130.5 471.5 L131 472.64 L131.5 472.61 L132 473.46 L132.5 472.73 L133 472.77 L133.5 473.46 L134 474.32 L134.5 474.07 L135 473.64 L135.5 473.34 L136 474.02 L136.5 473.85 L137 474.98 L137.5 475.7 L138 474.98 L138.5 474.89 L139 475.9 L139.5 476.2 L140 476.75 L140.5 476.3 L141 475.78 L141.5 475.92 L142 476.99 L142.5 476.68 L143 476.76 L143.5 477.03 L144 477.27 L144.5 477.56 L145 478.77 L145.5 478.15 L146 477.71 L146.5 479.32 L147 480.16 L147.5 480.92 L148 480.44 L148.5 481.28 L149 481.81 L149.5 480.9 L150 481.5 L150.5 482.09 L151 482.2 L151.5 482.11 L152 481.78" fill="none" stroke="#8a8a8a" stroke-width="1.8" stroke-linejoin="round" />
<path d="M151 482.2 L151.5 482.11 L152 481.78 L152.5 481.83 L153 481.77 L153.5 481.57 L154 482.53 L154.5 482.59 L155 483.69 L155.5 482.98 L156 484.29 L156.5 484.67 L157 485.31 L157.5 485.66 L158 485.91 L158.5 485.53 L159 484.4 L159.5 485.23 L160 484.68 L160.5 484.72 L161 485.46 L161.5 485.66 L162 485.63 L162.5 486.64 L163 486.63 L163.5 486.21 L164 485.91 L164.5 486.94 L165 486.83 L165.5 487.4 L166 486.99 L166.5 486.58 L167 487.05 L167.5 487.87 L168 487.19 L168.5 488.05 L169 488.74 L169.5 488.92 L170 489.1 L170.5 487.77 L171 488.28 L171.5 489 L172 487.95 L172.5 487.88 L173 487.89 L173.5 488.41 L174 488.54 L174.5 488.74 L175 489.44 L175.5 488.45 L176 488.1 L176.5 488.11 L177 488.16 L177.5 488.13 L178 489.8 L178.5 490.47 L179 489.48 L179.5 489.78 L180 489.65 L180.5 489.63 L181 489.73 L181.5 490.35 L182 490.6 L182.5 490.36 L183 489.98 L183.5 490.08 L184 489.81 L184.5 490.49 L185 491.17 L185.5 490.94 L186 490.34 L186.5 490.25 L187 490.61 L187.5 491.24 L188 491.93 L188.5 491.59 L189 492.22 L189.5 492.26 L190 491.98 L190.5 491.78 L191 491.94 L191.5 492.44 L192 492.23 L192.5 492.66 L193 492.5 L193.5 492.07 L194 492.43 L194.5 492.94 L195 492.11 L195.5 492.38 L196 492.56 L196.5 493.51 L197 494.13 L197.5 493.47 L198 494.06" fill="none" stroke="#8a8a8a" stroke-width="1.2" stroke-linejoin="round" />
<path d="M54 498.07 L54.5 498.47 L55 498.78 L55.5 499.26 L56 499.06 L56.5 499.36 L57 497.54 L57.5 497.6 L58 498.67 L58.5 498.56 L59 499.06 L59.5 497.58 L60 497.62 L60.5 497.15 L61 497.57 L61.5 497.85 L62 496.75 L62.5 496.65 L63 496.74 L63.5 498.19 L64 498.58 L64.5 497.44 L65 498.27 L65.5 497.24 L66 497.78 L66.5 496.97 L67 496.29 L67.5 497.86 L68 497.19 L68.5 496.87 L69 498.4 L69.5 498.92 L70 497.9 L70.5 494.06 L71 485.62 L71.5 476.95 L72 470.33 L72.5 470.54 L73 469.63 L73.5 469.99 L74 469.89 L74.5 468.4 L75 467.67 L75.5 466.75 L76 466.12 L76.5 466.09 L77 466.76 L77.5 467.92 L78 467.35 L78.5 468.72 L79 468.82 L79.5 468.85 L80 470.1 L80.5 470.08 L81 469.82 L81.5 470.15 L82 470.92 L82.5 469.99 L83 471.64 L83.5 470.49 L84 471.63 L84.5 472.51 L85 471.25 L85.5 472.42 L86 472.18 L86.5 472.64 L87 471.73 L87.5 471.47 L88 471.74 L88.5 473.2 L89 472.12 L89.5 472.67 L90 473.19 L90.5 473.34 L91 471.97 L91.5 471.16 L92 471 L92.5 471.67 L93 470.57 L93.5 471.45 L94 472.04 L94.5 472.5 L95 470.95 L95.5 472.2 L96 470.98 L96.5 470.48 L97 470.61 L97.5 471.15 L98 469.94 L98.5 470.42 L99 469.61 L99.5 468.49 L100 467.74 L100.5 467.56 L101 467.4 L101.5 467.63 L102 469.08 L102.5 470.63 L103 469.72 L103.5 468.89 L104 470.54 L104.5 470.39 L105 470.04 L105.5 469.5 L106 470.03 L106.5 470.81 L107 470.4 L107.5 470.13 L108 469.2 L108.5 470.32 L109 468.8 L109.5 468.9 L110 469.57 L110.5 468.2 L111 468.69 L111.5 469.27 L112 468.71 L112.5 468.64 L113 466.95 L113.5 466.69 L114 466.18 L114.5 467.52 L115 467.03 L115.5 467.19 L116 468.53 L116.5 468.93 L117 469.46 L117.5 468.63 L118 468.34 L118.5 468.72 L119 468.38 L119.5 467.81 L120 467.8 L120.5 467.25 L121 467.5 L121.5 468.99 L122 469.69 L122.5 469.33 L123 468.9 L123.5 468.34 L124 467.54 L124.5 467.71 L125 469 L125.5 469.94 L126 469.38 L126.5 470.13 L127 470.58 L127.5 470.72 L128 470.81 L128.5 471.27 L129 470.76 L129.5 471.41 L130 470.94 L130.5 471.3 L131 472.25 L131.5 472.7 L132 472.19 L132.5 473.43 L133 473.51 L133.5 473.5 L134 472.35 L134.5 473.05 L135 472.86 L135.5 473.79 L136 473.9 L136.5 474.84 L137 475.04 L137.5 475.57 L138 474.96 L138.5 475.4 L139 475.92 L139.5 476.48 L140 475.81 L140.5 476.66 L141 477.24 L141.5 477.24 L142 477.97 L142.5 478.39 L143 477.73 L143.5 477.53 L144 476.73 L144.5 477.91 L145 478.82 L145.5 478.36 L146 478.7 L146.5 479.03 L147 479.32 L147.5 478.34 L148 479.29 L148.5 479.42 L149 479.77 L149.5 479.52 L150 479.95 L150.5 480.6 L151 480.72 L151.5 481.07 L152 479.83 L152.5 479.61 L153 480.22 L153.5 481.09 L154 480.68 L154.5 481.6 L155 482.05 L155.5 481.08 L156 481.65 L156.5 481.48 L157 481.02 L157.5 481.01 L158 481.46 L158.5 481.44 L159 481.5 L159.5 481.24 L160 482.1 L160.5 482.39 L161 483.1 L161.5 483.45 L162 482.9 L162.5 484.14 L163 482.83 L163.5 483.11 L164 483.02 L164.5 483.32 L165 482.86 L165.5 484.26 L166 484.01 L166.5 483.18 L167 484.09 L167.5 483.46 L168 484.18 L168.5 484.13 L169 484.66 L169.5 485.79 L170 486.08 L170.5 485.38 L171 485.92 L171.5 485.86 L172 485.26 L172.5 484.49 L173 485.14 L173.5 485.42 L174 486.46 L174.5 487.04 L175 486.57 L175.5 485.8 L176 486.65 L176.5 485.14 L177 484.65 L177.5 485.45 L178 485.99 L178.5 485.25 L179 485.99 L179.5 486.96 L180 486.35 L180.5 486.2 L181 485.68 L181.5 485.58 L182 487.05 L182.5 486.49 L183 487.51 L183.5 487.94 L184 487.47 L184.5 486.51 L185 487.64 L185.5 487.15 L186 486.75 L186.5 486.35 L187 487.63 L187.5 487.21 L188 486.56 L188.5 486.68 L189 485.97 L189.5 486.74 L190 486.74 L190.5 486.43 L191 487.37 L191.5 487.96 L192 486.48 L192.5 486.9 L193 486.56 L193.5 487.86 L194 488.19 L194.5 487.19 L195 486.76 L195.5 486.31 L196 487.94 L196.5 487.25 L197 487.61 L197.5 487.51 L198 487.83" fill="none" stroke="#000" stroke-width="1.7" stroke-linejoin="round" />
<path d="M96 475.42 L96.5 474.64 L97 475.25 L97.5 474.59 L98 473.08 L98.5 472 L99 471.12 L99.5 469.15 L100 467.25 L100.5 467.08 L101 467.13 L101.5 468.53 L102 469.34 L102.5 469.02 L103 469.22" fill="none" stroke="#8a8a8a" stroke-width="1.6" stroke-linejoin="round" />
<path d="M114 469.32 L114.5 469.31 L115 469.68 L115.5 469.26 L116 469.68 L116.5 469.94 L117 468.77 L117.5 468.24 L118 469.08 L118.5 470.04 L119 469.25 L119.5 469.23 L120 469.47 L120.5 469.11 L121 469.02 L121.5 468.89 L122 468.93 L122.5 469.37 L123 469.07 L123.5 469.06 L124 469.78 L124.5 468.98 L125 469.64 L125.5 470.37 L126 470.06 L126.5 469.84 L127 470.88 L127.5 470.47 L128 470.26 L128.5 470.74 L129 471.56 L129.5 471.02 L130 471.25 L130.5 471.5 L131 472.64 L131.5 472.61 L132 473.46 L132.5 472.73 L133 472.77 L133.5 473.46 L134 474.32 L134.5 474.07 L135 473.64 L135.5 473.34 L136 474.02 L136.5 473.85 L137 474.98 L137.5 475.7 L138 474.98 L138.5 474.89 L139 475.9 L139.5 476.2 L140 476.75 L140.5 476.3 L141 475.78 L141.5 475.92 L142 476.99 L142.5 476.68 L143 476.76 L143.5 477.03 L144 477.27 L144.5 477.56 L145 478.77 L145.5 478.15 L146 477.71 L146.5 479.32 L147 480.16 L147.5 480.92 L148 480.44" fill="none" stroke="#8a8a8a" stroke-width="1.7" stroke-linejoin="round" />
<path d="M54 497.54 L54.5 497.27 L55 497.43 L55.5 497.27 L56 497.1 L56.5 497.35 L57 497.99 L57.5 498.2 L58 498.26 L58.5 497.75 L59 497.81 L59.5 497.58 L60 497.36 L60.5 497.19 L61 497.21 L61.5 497.93 L62 498.19 L62.5 498.3 L63 498.35 L63.5 497.77 L64 497.59 L64.5 497.82 L65 498.04 L65.5 498.28 L66 498.42 L66.5 497.7 L67 497.85 L67.5 498 L68 497.91 L68.5 497.53 L69 497.64 L69.5 497.31 L70 497.99 L70.5 498.26" fill="none" stroke="#8a8a8a" stroke-width="1.4" stroke-linejoin="round" />
<line x1="63.3" y1="495.5" x2="63.3" y2="511.5" stroke="#8a8a8a" stroke-width="1.3" />
<line x1="61" y1="458.5" x2="61" y2="498.5" stroke="#111" stroke-width="1.4" stroke-dasharray="1.4 1.4"/>
<path d="M207 497.77 L207.5 497.82 L208 498.07 L208.5 497.91 L209 497.86 L209.5 497.88 L210 497.65 L210.5 497.73 L211 497.84 L211.5 498 L212 497.66 L212.5 497.61 L213 497.46 L213.5 497.82 L214 497.92 L214.5 497.59 L215 497.98 L215.5 498.17 L216 498.08 L216.5 498.01 L217 497.7 L217.5 497.46 L218 497.65 L218.5 497.46 L219 497.44 L219.5 497.47 L220 497.35 L220.5 497.55 L221 497.64 L221.5 497.93 L222 497.87 L222.5 497.84 L223 497.7 L223.5 497.68 L224 497.51 L224.5 497.28 L225 497.55 L225.5 497.65 L226 497.56 L226.5 497.4 L227 497.04 L227.5 496.77 L228 496.63 L228.5 496.39 L229 496.64 L229.5 496.51 L230 496.67 L230.5 496.27 L231 496.28 L231.5 496.1 L232 495.38 L232.5 495.01 L233 495.13 L233.5 494.8 L234 494.81 L234.5 494.34 L235 493.79 L235.5 493.72 L236 493.65 L236.5 493.19 L237 492.72 L237.5 492.72 L238 493.08 L238.5 493.11 L239 492.73 L239.5 492.59 L240 492.42 L240.5 492.28 L241 492.64 L241.5 492.43 L242 492.53 L242.5 492.61 L243 492.53 L243.5 492.85 L244 492.69 L244.5 492.96 L245 492.81 L245.5 492.96 L246 492.94 L246.5 493.01 L247 493.5 L247.5 493.68 L248 493.51 L248.5 493.81 L249 493.59 L249.5 493.63 L250 493.97 L250.5 494.02 L251 493.74 L251.5 494.17 L252 493.94 L252.5 493.87 L253 494.18 L253.5 494.08 L254 494.05 L254.5 493.92 L255 493.89 L255.5 494.19 L256 494.17 L256.5 494.39 L257 494.4 L257.5 494.47 L258 494.84 L258.5 494.76 L259 494.8 L259.5 495.02 L260 494.74 L260.5 494.61 L261 495.03 L261.5 495.2 L262 494.98 L262.5 494.85 L263 495.14 L263.5 495.44 L264 495.16 L264.5 495.5 L265 495.65 L265.5 495.59 L266 495.47 L266.5 495.25 L267 495.12 L267.5 495.64 L268 495.49 L268.5 495.72 L269 495.59 L269.5 495.89 L270 495.93 L270.5 495.76 L271 495.61 L271.5 495.87 L272 495.62 L272.5 495.6 L273 495.79 L273.5 496.07 L274 496.08 L274.5 495.89 L275 496.19 L275.5 495.92 L276 495.68 L276.5 495.72 L277 495.85 L277.5 495.69 L278 495.69 L278.5 495.82 L279 496.01 L279.5 495.85 L280 495.92 L280.5 496.28 L281 496.52 L281.5 496.45 L282 496.45 L282.5 496.39 L283 496.11 L283.5 495.91 L284 495.81 L284.5 496.3 L285 496.43 L285.5 496.66 L286 496.22 L286.5 496.37 L287 496.37 L287.5 496.52 L288 496.36 L288.5 496.7 L289 496.32 L289.5 496.42 L290 496.59 L290.5 496.79 L291 496.79 L291.5 496.79 L292 496.84 L292.5 496.95 L293 496.68 L293.5 496.75 L294 496.92 L294.5 497 L295 496.78 L295.5 496.9 L296 497.01 L296.5 496.9 L297 496.88 L297.5 496.74 L298 496.79 L298.5 496.85 L299 496.56 L299.5 496.76 L300 497.09 L300.5 497.18 L301 497.13 L301.5 496.91 L302 497 L302.5 496.96 L303 496.86 L303.5 497.05 L304 496.69 L304.5 496.92 L305 496.6 L305.5 496.78 L306 496.81 L306.5 496.67 L307 496.88 L307.5 496.87 L308 496.94 L308.5 497.16 L309 496.87 L309.5 496.58 L310 496.61 L310.5 496.86 L311 496.69 L311.5 496.6 L312 496.99 L312.5 497.04 L313 496.94 L313.5 497.16 L314 496.93 L314.5 497.02 L315 496.79 L315.5 496.82 L316 497.06 L316.5 497.24 L317 497.32 L317.5 497.06 L318 497.05 L318.5 496.89 L319 496.7 L319.5 496.83 L320 497.1 L320.5 497.24 L321 497.23 L321.5 497.37 L322 497.04 L322.5 496.81 L323 496.87 L323.5 496.79 L324 496.72 L324.5 496.81 L325 496.98 L325.5 496.99 L326 496.89 L326.5 497.15 L327 497.37 L327.5 497.17 L328 496.84 L328.5 496.65 L329 497.07 L329.5 496.78 L330 497.03 L330.5 497.08 L331 496.95 L331.5 497.17 L332 496.83 L332.5 496.72 L333 496.87 L333.5 496.68 L334 497.07 L334.5 496.92 L335 496.78 L335.5 496.66 L336 496.95 L336.5 496.99 L337 497.12 L337.5 497.2 L338 497.34 L338.5 497.5 L339 497.41 L339.5 497.08 L340 497.09 L340.5 496.91 L341 496.72 L341.5 496.91 L342 497.15 L342.5 496.95 L343 496.91 L343.5 496.93 L344 497.16 L344.5 497.17 L345 497.23 L345.5 497.35 L346 497.19 L346.5 497.36 L347 497.51 L347.5 497.09 L348 497.4 L348.5 497.42 L349 497.08 L349.5 497.11 L350 497.23 L350.5 497.46 L351 497.26" fill="none" stroke="#8a8a8a" stroke-width="1.2" stroke-linejoin="round" />
<path d="M207 497.77 L207.5 497.94 L208 498.04 L208.5 496.87 L209 495.35 L209.5 495.76 L210 496.9 L210.5 497.89 L211 498.04 L211.5 498.02 L212 497.97 L212.5 498.05 L213 497.57 L213.5 497.62 L214 497.37 L214.5 497.99 L215 497.46 L215.5 497.95 L216 497.45 L216.5 495.79 L217 492.24 L217.5 495.6 L218 498.06 L218.5 497.45 L219 497.18 L219.5 497.91 L220 497.86 L220.5 497.42 L221 498.1 L221.5 493.47 L222 487.85 L222.5 483.06 L223 478.67 L223.5 474.6 L224 477.16 L224.5 479.09 L225 481.71 L225.5 482.63 L226 483.31 L226.5 484.69 L227 485.36 L227.5 486.11 L228 486.9 L228.5 487.28 L229 487.59 L229.5 487.6 L230 488.51 L230.5 489.41 L231 490.06 L231.5 490.14 L232 490.02 L232.5 490.1 L233 490.6 L233.5 490.97 L234 490.74 L234.5 490.71 L235 490.06 L235.5 491.17 L236 491.67 L236.5 491.66 L237 491.24 L237.5 491.87 L238 491.85 L238.5 491.99 L239 491.81 L239.5 491.34 L240 492.08 L240.5 492.5 L241 492.06 L241.5 492.31 L242 492.08 L242.5 492.5 L243 492.07 L243.5 492.12 L244 491.12 L244.5 492.59 L245 492.21 L245.5 492.44 L246 492.33 L246.5 492.37 L247 492.6 L247.5 493.22 L248 493.07 L248.5 492.68 L249 492.93 L249.5 493.42 L250 493.13 L250.5 492.83 L251 493.25 L251.5 493.65 L252 492.96 L252.5 492.9 L253 493.39 L253.5 493.21 L254 493.04 L254.5 491.8 L255 492.62 L255.5 493.16 L256 493.81 L256.5 494.16 L257 493.85 L257.5 493.23 L258 493.23 L258.5 493.71 L259 494.01 L259.5 493.98 L260 493.57 L260.5 493.67 L261 493.69 L261.5 492.97 L262 493.59 L262.5 494.16 L263 494.4 L263.5 493.8 L264 493.65 L264.5 494.16 L265 493.84 L265.5 494.36 L266 494.2 L266.5 493.33 L267 494.4 L267.5 493.96 L268 493.83 L268.5 493.74 L269 494.14 L269.5 494.36 L270 493.93 L270.5 494.47 L271 493.06 L271.5 494.02 L272 494.09 L272.5 494.68 L273 494.56 L273.5 494.58 L274 494.89 L274.5 495.1 L275 495.01 L275.5 494.63 L276 493.81 L276.5 494.94 L277 495 L277.5 494.83 L278 494.52 L278.5 494.39 L279 494.71 L279.5 494.7 L280 494.16 L280.5 494.59 L281 495.01 L281.5 495.12 L282 494.98 L282.5 495.39 L283 495.08 L283.5 495.19 L284 494.84 L284.5 494.39 L285 494.43 L285.5 494.42 L286 495.05 L286.5 495.12 L287 495.02 L287.5 495.06 L288 493.8 L288.5 494.78 L289 495.05 L289.5 494.89 L290 494.66 L290.5 494.72 L291 494.68 L291.5 495.03 L292 494.67 L292.5 494.45 L293 493.7 L293.5 495.02 L294 495.32 L294.5 495.38 L295 495.69 L295.5 495.29 L296 494.76 L296.5 494.96 L297 495.03 L297.5 494.81 L298 495.19 L298.5 494.33 L299 494.91 L299.5 494.93 L300 495.57 L300.5 494.96 L301 495.02 L301.5 494.97 L302 494.88 L302.5 495.08 L303 494.97 L303.5 495.62 L304 495.06 L304.5 495.71 L305 495.26 L305.5 495.35 L306 495.55 L306.5 495.89 L307 495.48 L307.5 495.49 L308 495.9 L308.5 495.88 L309 495.59 L309.5 495.66 L310 495.92 L310.5 495.7 L311 495.87 L311.5 495.96 L312 496.32 L312.5 496.09 L313 495.22 L313.5 495.8 L314 496.04 L314.5 495.75 L315 495.8 L315.5 495.69 L316 495.59 L316.5 495.38 L317 495.37 L317.5 495.69 L318 495.57 L318.5 494.79 L319 495.95 L319.5 495.76 L320 496.33 L320.5 496.27 L321 496.04 L321.5 496.41 L322 496.62 L322.5 496.16 L323 495.73 L323.5 496.04 L324 496.4 L324.5 496.35 L325 496.5 L325.5 495.59 L326 496.28 L326.5 495.96 L327 495.95 L327.5 495.92 L328 495.91 L328.5 495.93 L329 496.35 L329.5 495.92 L330 495.75 L330.5 495.72 L331 496.42 L331.5 496.33 L332 495.82 L332.5 495.9 L333 496.66 L333.5 496.76 L334 496.36 L334.5 496.53 L335 496.2 L335.5 495.87 L336 496.43 L336.5 496.69 L337 495.35 L337.5 496.62 L338 495.99 L338.5 495.95 L339 495.65 L339.5 495.66 L340 495.66 L340.5 496.21 L341 496.08 L341.5 495.15 L342 495.82 L342.5 495.91 L343 496.51 L343.5 496.55 L344 496.08 L344.5 496.42 L345 496.45 L345.5 496.39 L346 496.43 L346.5 496.59 L347 496.82 L347.5 495.75 L348 496.68 L348.5 496.54 L349 496.64 L349.5 496.45 L350 496.39 L350.5 496.46 L351 496.7" fill="none" stroke="#dc1f26" stroke-width="1.5" stroke-linejoin="round" />
<path d="M299.6 496 L300.6 489.8 L301.6 495.8" fill="none" stroke="#dc1f26" stroke-width="1.2" stroke-linejoin="round" />
<line x1="215.6" y1="496" x2="215.6" y2="512.5" stroke="#8a8a8a" stroke-width="1.3" />
<line x1="213.3" y1="435.5" x2="213.3" y2="501" stroke="#111" stroke-width="1.4" stroke-dasharray="1.4 1.4"/>
<path d="M374 498.53 L374.5 497.59 L375 493.56 L375.5 486.36 L376 484.43 L376.5 482.73 L377 482.19 L377.5 480.85 L378 480.46 L378.5 479.09 L379 479.21 L379.5 477.89 L380 477.33 L380.5 477.22 L381 476.41 L381.5 476.46 L382 476.64 L382.5 475.85 L383 476.96 L383.5 477.19 L384 477.02 L384.5 476.9 L385 478.05 L385.5 478.36 L386 479.24 L386.5 479.96 L387 480.97 L387.5 481.19 L388 481.86 L388.5 482.41 L389 482.47 L389.5 483.51 L390 483.13 L390.5 483.81 L391 484.55 L391.5 484.55 L392 483.87 L392.5 484.74 L393 485.05 L393.5 484.55 L394 484.21 L394.5 484.94 L395 484.62 L395.5 486.02 L396 486.17 L396.5 486.36 L397 486.36 L397.5 486.85 L398 487.6 L398.5 487.1 L399 487.04 L399.5 487.45 L400 487.28 L400.5 487.77 L401 488.03 L401.5 488.07 L402 488.57 L402.5 488.68 L403 488.13 L403.5 489.4 L404 489.1 L404.5 489.16 L405 489.15 L405.5 490.02 L406 490.52 L406.5 490.11 L407 489.76 L407.5 489.14 L408 490.14 L408.5 489.52 L409 489.85 L409.5 489.73 L410 489.68 L410.5 489.74 L411 489.54 L411.5 489.23 L412 489.91 L412.5 490.66 L413 490.82 L413.5 490.21 L414 490.71 L414.5 489.95 L415 490.16 L415.5 490.96 L416 491.52 L416.5 491.08 L417 491.5 L417.5 491.17 L418 491.07 L418.5 491.13 L419 491.83 L419.5 491.8 L420 491.38 L420.5 491.59 L421 491.58 L421.5 491.13 L422 491.61 L422.5 491.93 L423 491.75 L423.5 492.18 L424 490.92 L424.5 491.06 L425 491.35 L425.5 491.02 L426 490.58 L426.5 491.2 L427 491.09 L427.5 490.78 L428 490.26 L428.5 491.48 L429 491.1 L429.5 490.54 L430 490.42 L430.5 490.42 L431 491.39 L431.5 490.79 L432 490.64 L432.5 490.27 L433 490.69 L433.5 490.48 L434 490.59 L434.5 491.27 L435 491.92 L435.5 492.03 L436 490.78 L436.5 490.67 L437 491.33 L437.5 490.33 L438 490.07 L438.5 490.37 L439 490.31 L439.5 490.84 L440 491.02 L440.5 490.68 L441 490.13 L441.5 489.79 L442 489.65 L442.5 489.22 L443 489.94 L443.5 489.45 L444 490.35 L444.5 490.38 L445 489.53 L445.5 489.83 L446 490.18 L446.5 489.48 L447 489.86 L447.5 489.34 L448 490.29 L448.5 489.57 L449 490.23 L449.5 491.15 L450 491.42 L450.5 490.59 L451 490.68 L451.5 490.12 L452 490.19 L452.5 491.08 L453 491.48 L453.5 490.41 L454 490.49 L454.5 490.97 L455 490.49 L455.5 491.27 L456 491.83 L456.5 491.58 L457 491.18 L457.5 491.78 L458 491.56 L458.5 490.96 L459 490.82 L459.5 490.58 L460 491.57 L460.5 491.56 L461 491.88 L461.5 492.25 L462 492.71 L462.5 491.71 L463 491.57 L463.5 492.27 L464 492.47 L464.5 491.99 L465 492.2 L465.5 491.59 L466 491.25 L466.5 490.93 L467 491.31 L467.5 491.3 L468 491.76 L468.5 492.74 L469 491.94 L469.5 492.21 L470 492.86 L470.5 492.79 L471 492.66 L471.5 493.01 L472 492.01 L472.5 493.03 L473 493.14 L473.5 493.41 L474 493.6 L474.5 492.56 L475 492.01 L475.5 491.94 L476 492.45 L476.5 493.43 L477 493.89 L477.5 493.36 L478 493.45 L478.5 493.71 L479 493.21 L479.5 494.01 L480 494.39 L480.5 494.26 L481 494.5 L481.5 494.48 L482 494.26 L482.5 493.64 L483 493.3 L483.5 493.08 L484 492.71 L484.5 493.93 L485 493.57 L485.5 492.97 L486 493.17 L486.5 492.95 L487 493.41 L487.5 493.49 L488 493.3 L488.5 493.71 L489 493.85 L489.5 493.84 L490 494.6 L490.5 494.18 L491 494.36 L491.5 495.01 L492 495.49 L492.5 494.81 L493 493.95 L493.5 495 L494 494.85 L494.5 494.31 L495 493.92 L495.5 493.92 L496 494.06 L496.5 493.87 L497 493.65 L497.5 495.07 L498 495.53 L498.5 494.64 L499 494.8 L499.5 495.42 L500 495.27 L500.5 494.52 L501 494.6 L501.5 494.72 L502 495.65 L502.5 495.61 L503 495.41" fill="none" stroke="#1a66af" stroke-width="1.7" stroke-linejoin="round" />
<path d="M359 497.6 L359.5 497.81 L360 497.89 L360.5 497.83 L361 497.65 L361.5 497.9 L362 498.03 L362.5 497.92 L363 497.87 L363.5 497.67 L364 497.44 L364.5 497.54 L365 497.72 L365.5 497.5 L366 497.83 L366.5 497.65 L367 497.57 L367.5 497.41 L368 497.9 L368.5 497.99 L369 498.12 L369.5 498.03 L370 497.64 L370.5 497.62 L371 497.71 L371.5 497.52 L372 497.93 L372.5 497.79 L373 497.59 L373.5 497.88 L374 497.62 L374.5 497.82 L375 497.55 L375.5 497.41 L376 497.13 L376.5 497.01 L377 496.69 L377.5 496.37 L378 496.63 L378.5 496.31 L379 496.4 L379.5 496.02 L380 496.22 L380.5 496.1 L381 495.83 L381.5 495.57 L382 495.21 L382.5 494.99 L383 494.39 L383.5 494.18 L384 494.16 L384.5 493.65 L385 493.7 L385.5 493.61 L386 493.16 L386.5 492.79 L387 492.54 L387.5 492.27 L388 492.38 L388.5 491.96 L389 491.73 L389.5 491.7 L390 492.1 L390.5 492.51 L391 492.45 L391.5 492.47 L392 492.55 L392.5 492.76 L393 492.58 L393.5 492.77 L394 492.88 L394.5 493.01 L395 492.86 L395.5 492.81 L396 492.93 L396.5 493.38 L397 493.3 L397.5 493.45 L398 493.39 L398.5 493.28 L399 493.24 L399.5 493.71 L400 493.96 L400.5 493.88 L401 494.07 L401.5 494.2 L402 494.44 L402.5 494.64 L403 494.44 L403.5 494.73 L404 494.9 L404.5 494.81 L405 494.97 L405.5 494.83 L406 494.71 L406.5 494.6 L407 494.94 L407.5 494.71 L408 494.56 L408.5 494.95 L409 495.15 L409.5 495.1 L410 495.31 L410.5 494.97 L411 494.94 L411.5 494.97 L412 495.09 L412.5 495.02 L413 494.95 L413.5 495.1 L414 495.53 L414.5 495.82 L415 495.85 L415.5 495.73 L416 495.55 L416.5 495.91 L417 495.85 L417.5 495.97 L418 495.63 L418.5 495.6 L419 495.98 L419.5 496.17 L420 496.34 L420.5 496.24 L421 496.1 L421.5 496.12 L422 496.3 L422.5 496.08 L423 496.11 L423.5 495.97 L424 496.21 L424.5 495.88 L425 496.12 L425.5 496.41 L426 496.01 L426.5 496.15 L427 496.26 L427.5 496.45 L428 496.39 L428.5 496.17 L429 496.15 L429.5 496.49 L430 496.63 L430.5 496.24 L431 496.03 L431.5 495.93 L432 495.85 L432.5 496.07 L433 496 L433.5 496.41 L434 496.49 L434.5 496.22 L435 496.34 L435.5 496.28 L436 496.36 L436.5 496.24 L437 496.15 L437.5 496.13 L438 496.24 L438.5 496.5 L439 496.54 L439.5 496.26 L440 496.53 L440.5 496.77 L441 496.84 L441.5 496.89 L442 496.45 L442.5 496.51 L443 496.31 L443.5 496.63 L444 496.45 L444.5 496.68 L445 496.53 L445.5 496.73 L446 496.61 L446.5 496.39 L447 496.49 L447.5 496.51 L448 496.87 L448.5 496.7 L449 496.75 L449.5 496.8 L450 497.08 L450.5 496.7 L451 496.81 L451.5 496.82 L452 496.95 L452.5 497.16 L453 496.87 L453.5 496.96 L454 496.91 L454.5 496.9 L455 496.6 L455.5 496.9 L456 497.15 L456.5 496.9 L457 496.76 L457.5 497.09 L458 496.72 L458.5 496.53 L459 496.42 L459.5 496.82 L460 496.99 L460.5 496.88 L461 496.94 L461.5 496.6 L462 496.81 L462.5 496.8 L463 496.83 L463.5 496.78 L464 496.76 L464.5 496.64 L465 496.48 L465.5 496.63 L466 496.59 L466.5 496.85 L467 497.05 L467.5 497.09 L468 496.95 L468.5 496.76 L469 496.75 L469.5 496.8 L470 496.92 L470.5 497.18 L471 496.78 L471.5 496.82 L472 496.85 L472.5 497 L473 497.18 L473.5 497.2 L474 497.12 L474.5 497.16 L475 497.13 L475.5 497.23 L476 497.18 L476.5 497.15 L477 496.88 L477.5 497.14 L478 496.96 L478.5 497 L479 497.15 L479.5 497.31 L480 497.41 L480.5 496.87 L481 496.78 L481.5 496.74 L482 496.76 L482.5 496.63 L483 496.81 L483.5 496.62 L484 496.66 L484.5 497.06 L485 497.14 L485.5 497.02 L486 496.74 L486.5 497.11 L487 497.15 L487.5 496.87 L488 496.81 L488.5 496.96 L489 497.07 L489.5 496.86 L490 497.18 L490.5 496.96 L491 496.81 L491.5 497.09 L492 496.82 L492.5 497 L493 496.8 L493.5 496.94 L494 496.82 L494.5 496.82 L495 497.16 L495.5 497.05 L496 496.97 L496.5 497.05 L497 496.88 L497.5 496.74 L498 496.79 L498.5 496.75 L499 496.68 L499.5 497.11 L500 496.77 L500.5 497.07 L501 497.29 L501.5 497.27 L502 496.84 L502.5 496.92 L503 496.69" fill="none" stroke="#8a8a8a" stroke-width="1.3" stroke-linejoin="round" />
<line x1="365.8" y1="477.4" x2="365.8" y2="500.1" stroke="#6f8fae" stroke-width="1.4" />
<line x1="367.9" y1="490" x2="367.9" y2="517.2" stroke="#8a8a8a" stroke-width="1.4" />
<line x1="365.8" y1="435.5" x2="365.8" y2="477.4" stroke="#111" stroke-width="1.4" stroke-dasharray="1.4 1.4"/>
<path d="M512 497.31 L512.5 497.17 L513 497.38 L513.5 497.77 L514 497.42 L514.5 497.22 L515 497.24 L515.5 497.78 L516 497.44 L516.5 497.86 L517 497.99 L517.5 497.53 L518 497.7 L518.5 497.7 L519 497.66 L519.5 498.23 L520 497.61 L520.5 497.22 L521 497.95 L521.5 497.78 L522 497.49 L522.5 497.47 L523 497.5 L523.5 498.11 L524 497.66 L524.5 497.45 L525 497.71 L525.5 497.8 L526 498.25 L526.5 498.37 L527 497.94 L527.5 497.57 L528 498.02 L528.5 498.4 L529 497.63 L529.5 497.95 L530 498.24 L530.5 498.17 L531 497.7 L531.5 498.05 L532 498.15 L532.5 497.67 L533 497.88 L533.5 496.66 L534 495.42 L534.5 494.65 L535 493.81 L535.5 493 L536 492.4 L536.5 491.83 L537 491.24 L537.5 490.51 L538 489.72 L538.5 488.67 L539 487.22 L539.5 485.92 L540 485.61 L540.5 485.33 L541 485.16 L541.5 484.33 L542 483.85 L542.5 484.18 L543 483.87 L543.5 483.64 L544 482.77 L544.5 482.47 L545 483.47 L545.5 483.94 L546 484.76 L546.5 484.61 L547 485.03 L547.5 485.82 L548 486.1 L548.5 486.42 L549 486.12 L549.5 485.44 L550 484.98 L550.5 485.54 L551 484.86 L551.5 484.5 L552 484.37 L552.5 484.61 L553 484.87 L553.5 484.59 L554 484.43 L554.5 484.61 L555 484.14 L555.5 483.97 L556 484.08 L556.5 484.13 L557 483.51 L557.5 483.24 L558 483.09 L558.5 483.57 L559 483.73 L559.5 484.06 L560 483.98 L560.5 483.39 L561 483.55 L561.5 483.77 L562 483.18 L562.5 482.48 L563 482.43 L563.5 482.25 L564 481.99 L564.5 481.66 L565 481.51 L565.5 482.11 L566 481.54 L566.5 481.75 L567 481.38 L567.5 481.12 L568 481.55 L568.5 481.18 L569 480.82 L569.5 480.84 L570 481.03 L570.5 480.89 L571 481.32 L571.5 481.2 L572 481.34 L572.5 481.69 L573 481.69 L573.5 482.03 L574 482.03 L574.5 481.67 L575 481.42 L575.5 481.95 L576 482.16 L576.5 482.44 L577 482.32 L577.5 482.14 L578 481.64 L578.5 482.13 L579 481.68 L579.5 481.79 L580 481.58 L580.5 481.75 L581 481.79 L581.5 481.96 L582 482.36 L582.5 482.41 L583 482.17 L583.5 482.62 L584 482.83 L584.5 483.05 L585 482.4 L585.5 482.68 L586 483.13 L586.5 482.75 L587 482.53 L587.5 483.07 L588 482.91 L588.5 482.9 L589 483.34 L589.5 483.15 L590 482.9 L590.5 482.83 L591 482.96 L591.5 483.41 L592 483.33 L592.5 483.73 L593 483.26 L593.5 483.24 L594 483.64 L594.5 483.72 L595 483.82 L595.5 484.33 L596 483.97 L596.5 483.72 L597 483.48 L597.5 483.84 L598 483.87 L598.5 484.09 L599 483.77 L599.5 483.64 L600 483.98 L600.5 484.57 L601 484.45 L601.5 485.04 L602 485.04 L602.5 484.9 L603 485.24 L603.5 484.9 L604 485.14 L604.5 485.54 L605 485.48 L605.5 485.26 L606 484.96 L606.5 485.33 L607 485.17 L607.5 485.31 L608 485.58 L608.5 486.16 L609 486.21 L609.5 486.13 L610 486.46 L610.5 486.11 L611 486.06 L611.5 486.36 L612 486.42 L612.5 486.16 L613 486.25 L613.5 486.75 L614 486.45 L614.5 486.81 L615 486.36 L615.5 487.09 L616 487.22 L616.5 486.96 L617 487.52 L617.5 487.66 L618 487.03 L618.5 486.94 L619 487.17 L619.5 487.83 L620 487.35 L620.5 487.02 L621 487.15 L621.5 486.97 L622 487.27 L622.5 487.57 L623 487.65 L623.5 487.42 L624 487.21 L624.5 487.91 L625 487.92 L625.5 487.99 L626 488.05 L626.5 488.31 L627 488.68 L627.5 488.82 L628 488.81 L628.5 488.5 L629 488.22 L629.5 488.06 L630 488.8 L630.5 488.42 L631 488.79 L631.5 489.37 L632 489.13 L632.5 489.12 L633 489.2 L633.5 489.82 L634 489.92 L634.5 490.18 L635 489.56 L635.5 489.99 L636 489.98 L636.5 489.98 L637 490.45 L637.5 490.65 L638 490.98 L638.5 491.02 L639 491.27 L639.5 490.96 L640 490.99 L640.5 491.24 L641 491.06 L641.5 490.69 L642 490.98 L642.5 491.44 L643 491.69 L643.5 491.11 L644 491.1 L644.5 490.97 L645 491.05 L645.5 491.74 L646 491.57 L646.5 491.41 L647 491.32 L647.5 491.47 L648 491.81 L648.5 491.67 L649 491.48 L649.5 491.46 L650 491.51 L650.5 492.21 L651 491.85 L651.5 492.28 L652 491.89 L652.5 492.39 L653 492.16 L653.5 492.58 L654 492.48 L654.5 492.1 L655 491.96 L655.5 492.62 L656 492.72 L656.5 492.75 L657 492.66" fill="none" stroke="#177222" stroke-width="1.3" stroke-linejoin="round" />
<path d="M512 497.55 L512.5 497.5 L513 497.53 L513.5 497.91 L514 497.85 L514.5 497.96 L515 497.64 L515.5 497.72 L516 497.97 L516.5 497.9 L517 498.12 L517.5 498.19 L518 497.92 L518.5 497.56 L519 497.83 L519.5 497.59 L520 497.4 L520.5 497.74 L521 497.98 L521.5 498.09 L522 498.22 L522.5 497.83 L523 497.56 L523.5 497.45 L524 497.91 L524.5 497.62 L525 497.51 L525.5 497.37 L526 497.31 L526.5 497.28 L527 497.45 L527.5 497.42 L528 497.5 L528.5 497.91 L529 497.65 L529.5 497.92 L530 498 L530.5 497.94 L531 497.92 L531.5 498.02 L532 497.96 L532.5 497.72 L533 497.66 L533.5 496.67 L534 495.83 L534.5 495.31 L535 494.26 L535.5 493.07 L536 492.27 L536.5 491.62 L537 490.64 L537.5 489.85 L538 488.65 L538.5 487.59 L539 486.97 L539.5 485.85 L540 485.33 L540.5 485.08 L541 484.67 L541.5 484.22 L542 483.81 L542.5 484.01 L543 483.79 L543.5 483.68 L544 483.18 L544.5 483.05 L545 483.68 L545.5 484.13 L546 484.59 L546.5 485.1 L547 485.48 L547.5 486.05 L548 486.83 L548.5 486.72 L549 486.79 L549.5 486.52 L550 486.33 L550.5 486.26 L551 486.01 L551.5 485.47 L552 485.16 L552.5 484.79 L553 484.67 L553.5 485.14 L554 485.14 L554.5 485.34 L555 485.31 L555.5 485 L556 485.21 L556.5 485.27 L557 485 L557.5 484.62 L558 484.55 L558.5 484.4 L559 484.43 L559.5 484.25 L560 484.52 L560.5 484.79 L561 484.43 L561.5 484.46 L562 484.28 L562.5 484.06 L563 484.12 L563.5 483.76 L564 483.76 L564.5 483.22 L565 483.43 L565.5 482.98 L566 482.58 L566.5 482.82 L567 482.77 L567.5 482.64 L568 482.56 L568.5 482.2 L569 481.79 L569.5 481.63 L570 481.85 L570.5 481.9 L571 481.72 L571.5 481.93 L572 482.16 L572.5 482.67 L573 482.51 L573.5 483.05 L574 483.1 L574.5 483.18 L575 482.81 L575.5 482.51 L576 482.76 L576.5 482.58 L577 482.69 L577.5 482.6 L578 482.45 L578.5 482.11 L579 482.28 L579.5 482.65 L580 482.58 L580.5 482.32 L581 482.31 L581.5 482.82 L582 483.11 L582.5 482.85 L583 482.81 L583.5 483.06 L584 483.1 L584.5 482.97 L585 483.42 L585.5 483.47 L586 483.38 L586.5 483.17 L587 483.39 L587.5 483.69 L588 483.53 L588.5 483.44 L589 483.82 L589.5 484.16 L590 484.05 L590.5 484.1 L591 484.27 L591.5 484.32 L592 484.16 L592.5 484.22 L593 484.25 L593.5 484.3 L594 484.31 L594.5 484.54 L595 484.6 L595.5 485.05 L596 485 L596.5 485.41 L597 485.57 L597.5 485.36 L598 485.24 L598.5 485.47 L599 485.58 L599.5 485.71 L600 485.57 L600.5 485.78 L601 486.06 L601.5 486.05 L602 485.96 L602.5 486.36 L603 486.22 L603.5 486.61 L604 486.65 L604.5 486.3 L605 486.43 L605.5 486.36 L606 486.74 L606.5 486.75 L607 486.59 L607.5 487.06 L608 487.25 L608.5 487.26 L609 487.29 L609.5 487.04 L610 487.5 L610.5 487.35 L611 487.45 L611.5 487.52 L612 487.58 L612.5 487.38 L613 487.84 L613.5 487.86 L614 487.86 L614.5 488.17 L615 488.36 L615.5 488.41 L616 488.59 L616.5 488.38 L617 488.16 L617.5 488.24 L618 488.47 L618.5 488.73 L619 488.87 L619.5 488.91 L620 488.95 L620.5 489.04 L621 489.05 L621.5 488.76 L622 488.96 L622.5 488.92 L623 488.81 L623.5 489.11 L624 489.43 L624.5 489.29 L625 489.47 L625.5 489.57 L626 489.69 L626.5 489.89 L627 489.91 L627.5 489.58 L628 489.77 L628.5 489.73 L629 489.79 L629.5 490 L630 489.83 L630.5 490.05 L631 490.38 L631.5 490.06 L632 490.39 L632.5 490.5 L633 490.4 L633.5 490.6 L634 490.32 L634.5 490.26 L635 490.76 L635.5 490.81 L636 490.6 L636.5 490.5 L637 490.67 L637.5 490.84 L638 491.22 L638.5 490.96 L639 491.13 L639.5 491.13 L640 491.23 L640.5 491.53 L641 491.22 L641.5 491.52 L642 491.63 L642.5 491.43 L643 491.27 L643.5 491.6 L644 491.85 L644.5 491.7 L645 491.52 L645.5 491.71 L646 491.9 L646.5 491.84 L647 491.86 L647.5 491.72 L648 491.69 L648.5 491.76 L649 492.14 L649.5 491.97 L650 491.96 L650.5 492.14 L651 492.11 L651.5 492.13 L652 492.47 L652.5 492.36 L653 492.53 L653.5 492.36 L654 492.56 L654.5 492.79 L655 492.79 L655.5 492.65 L656 492.52 L656.5 492.62 L657 492.78" fill="none" stroke="#8a8a8a" stroke-width="1.5" stroke-linejoin="round" />
<line x1="521.5" y1="495.5" x2="521.5" y2="515.5" stroke="#8a8a8a" stroke-width="1.3" />
<line x1="519.2" y1="435.5" x2="519.2" y2="498" stroke="#111" stroke-width="1.4" stroke-dasharray="1.4 1.4"/>
<line x1="111.2" y1="494.1" x2="111.2" y2="510.7" stroke="#111" stroke-width="1.5" />
<line x1="81.2" y1="514.1" x2="112.2" y2="514.1" stroke="#111" stroke-width="1.5" />
<text x="116.8" y="507.6" fill="#1e1e1e" font-size="11.7" text-anchor="start" >5 mV</text>
<text x="80.4" y="528.8" fill="#1e1e1e" font-size="11.7" text-anchor="start" >50 ms</text>
</svg>
</body></html>
